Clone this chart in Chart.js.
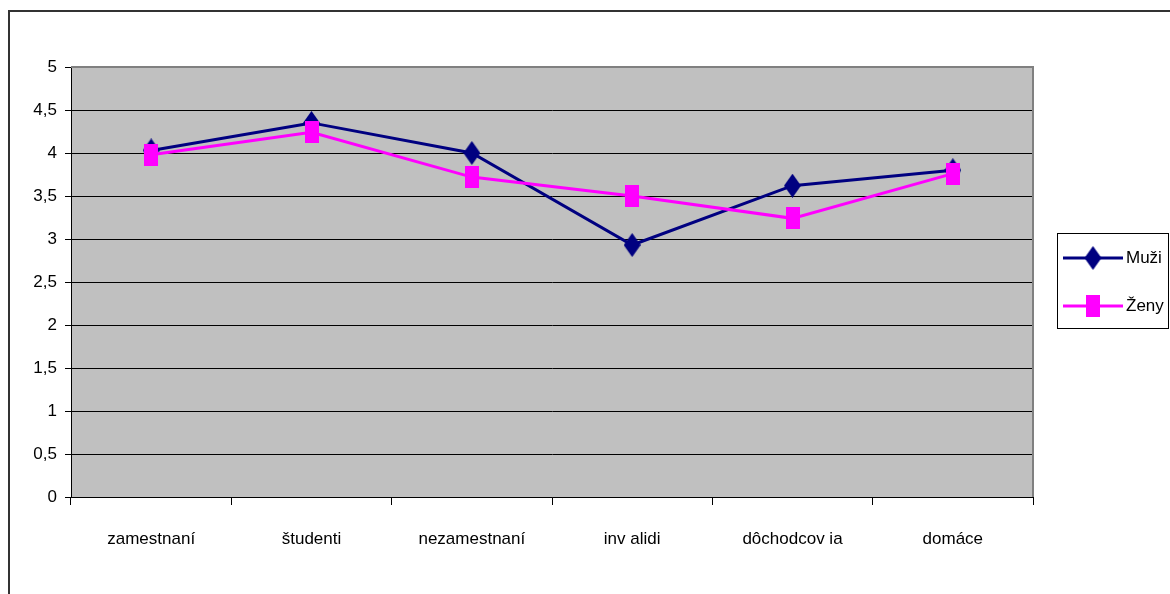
<!DOCTYPE html>
<html>
<head>
<meta charset="utf-8">
<script src="https://cdn.jsdelivr.net/npm/chart.js@4.4.0/dist/chart.umd.min.js"></script>
<style>
  html, body { margin: 0; padding: 0; background: #fff; }
  #wrap { width: 1170px; height: 594px; position: relative; }
</style>
</head>
<body>
<div id="wrap"><canvas id="c" width="1170" height="594"></canvas></div>
<script>
const categories = ['zamestnaní', 'študenti', 'nezamestnaní', 'inv alidi', 'dôchodcov ia', 'domáce'];
const muzi = [4.03, 4.35, 4.0, 2.93, 3.62, 3.80];
const zeny = [3.98, 4.24, 3.72, 3.50, 3.24, 3.76];
const seriesNames = ['Muži', 'Ženy'];

const NAVY = '#000080';
const MAGENTA = '#FF00FF';
const FONT = 'Liberation Sans, Arial, sans-serif';

function makeDiamond(w, h, color) {
    const cv = document.createElement('canvas');
    cv.width = w; cv.height = h;
    const g = cv.getContext('2d');
    g.fillStyle = color;
    g.beginPath();
    g.moveTo(w / 2, 0);
    g.lineTo(w, h / 2);
    g.lineTo(w / 2, h);
    g.lineTo(0, h / 2);
    g.closePath();
    g.fill();
    return cv;
}

function makeRect(w, h, color) {
    const cv = document.createElement('canvas');
    cv.width = w; cv.height = h;
    const g = cv.getContext('2d');
    g.fillStyle = color;
    g.fillRect(0, 0, w, h);
    return cv;
}

const diamond = makeDiamond(17, 24, NAVY);
const square = makeRect(14, 22, MAGENTA);

// pozadie, ramik a legenda
const framePlugin = {
    id: 'frame',
    beforeDraw(chart) {
        const ctx = chart.ctx;
        const a = chart.chartArea;
        ctx.save();
        ctx.fillStyle = '#fff';
        ctx.fillRect(0, 0, chart.width, chart.height);
        ctx.strokeStyle = '#333';
        ctx.lineWidth = 2;
        ctx.beginPath();
        ctx.moveTo(9, chart.height + 5);
        ctx.lineTo(9, 11);
        ctx.lineTo(chart.width + 5, 11);
        ctx.stroke();
        ctx.fillStyle = '#C0C0C0';
        ctx.fillRect(a.left, a.top, a.right - a.left, a.bottom - a.top);
        ctx.restore();
    },
    beforeDatasetsDraw(chart) {
        const ctx = chart.ctx;
        const a = chart.chartArea;
        ctx.save();
        ctx.strokeStyle = '#808080';
        ctx.lineWidth = 2;
        ctx.beginPath();
        ctx.moveTo(a.left, a.top);
        ctx.lineTo(a.right, a.top);
        ctx.lineTo(a.right, a.bottom);
        ctx.stroke();
        ctx.restore();
    },
    afterDraw(chart) {
        const ctx = chart.ctx;
        ctx.save();
        ctx.strokeStyle = '#000';
        ctx.lineWidth = 1;
        ctx.strokeRect(1057.5, 233.5, 111, 95);
        const items = [
            { name: seriesNames[0], color: NAVY, img: diamond, y: 258 },
            { name: seriesNames[1], color: MAGENTA, img: square, y: 306 }
        ];
        items.forEach(it => {
            ctx.strokeStyle = it.color;
            ctx.lineWidth = 3;
            ctx.beginPath();
            ctx.moveTo(1063, it.y);
            ctx.lineTo(1123, it.y);
            ctx.stroke();
            ctx.drawImage(it.img, 1093 - it.img.width / 2, it.y - it.img.height / 2);
            ctx.fillStyle = '#000';
            ctx.font = '17px ' + FONT;
            ctx.textBaseline = 'middle';
            ctx.textAlign = 'left';
            ctx.fillText(it.name, 1126, it.y);
        });
        ctx.restore();
    }
};

new Chart(document.getElementById('c').getContext('2d'), {
    type: 'line',
    data: {
        labels: categories,
        datasets: [{
            label: seriesNames[0],
            data: muzi,
            borderColor: NAVY,
            backgroundColor: NAVY,
            borderWidth: 3,
            pointStyle: diamond,
            tension: 0,
            order: 1
        }, {
            label: seriesNames[1],
            data: zeny,
            borderColor: MAGENTA,
            backgroundColor: MAGENTA,
            borderWidth: 3,
            pointStyle: square,
            tension: 0,
            order: 0
        }]
    },
    options: {
        responsive: false,
        animation: false,
        devicePixelRatio: 1,
        layout: { padding: { left: 0, top: 67, right: 137, bottom: 0 } },
        plugins: {
            legend: { display: false },
            tooltip: { enabled: false }
        },
        scales: {
            x: {
                type: 'category',
                offset: true,
                afterFit(scale) { scale.height = 97; },
                grid: {
                    offset: true,
                    drawOnChartArea: false,
                    drawTicks: true,
                    tickLength: 8,
                    color: '#000'
                },
                border: { color: '#000', width: 1 },
                ticks: {
                    color: '#000',
                    padding: 24,
                    maxRotation: 0,
                    autoSkip: false,
                    font: { family: FONT, size: 17 }
                }
            },
            y: {
                min: 0,
                max: 5,
                afterFit(scale) { scale.width = 71; },
                grid: {
                    color: '#000',
                    lineWidth: 1,
                    tickLength: 6
                },
                border: { color: '#000', width: 1 },
                ticks: {
                    stepSize: 0.5,
                    color: '#000',
                    padding: 8,
                    font: { family: FONT, size: 17 },
                    callback: v => String(v).replace('.', ',')
                }
            }
        }
    },
    plugins: [framePlugin]
});
</script>
</body>
</html>
